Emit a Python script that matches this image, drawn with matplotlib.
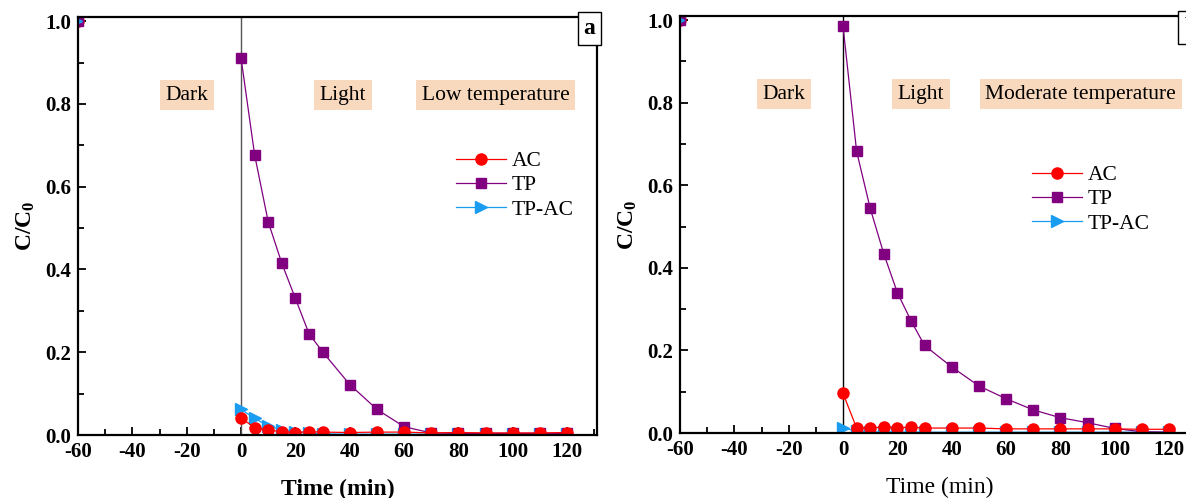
import matplotlib
matplotlib.use('Agg')
import matplotlib.pyplot as plt
from matplotlib.ticker import MultipleLocator

plt.rcParams['font.family'] = ['Liberation Serif', 'DejaVu Serif']
plt.rcParams['mathtext.fontset'] = 'custom'
plt.rcParams['mathtext.rm'] = 'Liberation Serif'
plt.rcParams['mathtext.bf'] = 'Liberation Serif:bold'
plt.rcParams['axes.unicode_minus'] = False

# time points (min); -60 is the start of the dark period
time = [-60, 0, 5, 10, 15, 20, 25, 30, 40, 50, 60, 70, 80, 90, 100, 110, 120]

# panel a - low temperature
ac_low = [1.0, 0.041, 0.018, 0.012, 0.008, 0.006, 0.008, 0.007, 0.006, 0.007,
          0.007, 0.005, 0.006, 0.005, 0.005, 0.005, 0.006]
tp_low = [1.0, 0.911, 0.677, 0.515, 0.415, 0.330, 0.245, 0.201, 0.122, 0.062,
          0.020, 0.005, 0.004, 0.004, 0.004, 0.004, 0.004]
tpac_low = [1.0, 0.062, 0.040, 0.022, 0.012, 0.008, 0.005, 0.003, 0.002, 0.002,
            0.002, 0.002, 0.002, 0.002, 0.002, 0.002, 0.002]

# panel b - moderate temperature
ac_mod = [1.0, 0.096, 0.012, 0.013, 0.014, 0.013, 0.014, 0.012, 0.012, 0.012,
          0.010, 0.010, 0.010, 0.010, 0.010, 0.009, 0.009]
tp_mod = [1.0, 0.985, 0.682, 0.544, 0.434, 0.340, 0.272, 0.212, 0.160, 0.114,
          0.083, 0.056, 0.037, 0.025, 0.011, 0.003, 0.002]
tpac_mod = [1.0, 0.013, 0.004, 0.003, 0.002, 0.002, 0.002, 0.002, 0.002, 0.002,
            0.002, 0.002, 0.002, 0.002, 0.002, 0.002, 0.002]

c_ac = '#ff0000'
c_tp = '#800080'
c_tpac = '#1a9cf0'
box_color = '#f9d9be'


def draw_panel(ax, ac, tp, tpac, labels, label_x, letter, bold_xlabel, vline_color):
    h3, = ax.plot(time[1:], tpac[1:], color=c_tpac, lw=0.9, marker='>', ms=8,
                  label='TP-AC', zorder=3)
    h2, = ax.plot(time[1:], tp[1:], color=c_tp, lw=0.9, marker='s', ms=7,
                  label='TP', zorder=4)
    h1, = ax.plot(time[1:], ac[1:], color=c_ac, lw=0.9, marker='o', ms=8,
                  label='AC', zorder=5)
    # starting points at -60 min (mostly hidden behind the axis)
    ax.plot(time[:1], ac[:1], color=c_ac, marker='o', ms=8, ls='none', zorder=3)
    ax.plot(time[:1], tp[:1], color=c_tp, marker='s', ms=7, ls='none', zorder=4)
    ax.plot(time[:1], tpac[:1], color=c_tpac, marker='>', ms=6, ls='none', zorder=5)

    ax.axvline(0, color=vline_color, lw=1.0, zorder=2)

    ax.set_xlim(-60, 131)
    ax.set_ylim(0, 1.01)
    ax.xaxis.set_minor_locator(MultipleLocator(10))
    ax.yaxis.set_minor_locator(MultipleLocator(0.1))
    ax.set_xticks(range(-60, 121, 20))
    ax.set_yticks([0.0, 0.2, 0.4, 0.6, 0.8, 1.0])
    ax.set_yticklabels(['0.0', '0.2', '0.4', '0.6', '0.8', '1.0'])
    ax.tick_params(which='major', direction='in', length=6, width=1.3,
                   labelsize=15, pad=5, top=False, right=False)
    ax.tick_params(which='minor', direction='in', length=4, width=1.3,
                   top=False, right=False)
    for lab in ax.get_xticklabels() + ax.get_yticklabels():
        lab.set_fontweight('bold')
    for sp in ax.spines.values():
        sp.set_linewidth(1.6)
        sp.set_zorder(10)

    for txt, x in zip(labels, label_x):
        ax.text(x, 0.821, txt, fontsize=15.5, ha='center', va='center',
                bbox=dict(boxstyle='square,pad=0.25', facecolor=box_color,
                          edgecolor='none'))

    ax.text(0.997, 0.997, letter, transform=ax.transAxes, fontsize=17,
            fontweight='bold', ha='right', va='top', zorder=11,
            bbox=dict(boxstyle='square,pad=0.25', facecolor='white',
                      edgecolor='black', lw=1.0))

    ax.set_ylabel(r'$\mathbf{C/C_0}$', fontsize=17, labelpad=6)
    ax.set_xlabel('Time (min)', fontsize=17,
                  fontweight='bold' if bold_xlabel else 'normal', labelpad=12)
    return [h1, h2, h3]


fig = plt.figure(figsize=(11.86, 4.98), dpi=100)
ax_a = fig.add_axes([78 / 1186, 63 / 498, 519 / 1186, 418 / 498])
ax_b = fig.add_axes([680 / 1186, 65 / 498, 519 / 1186, 417 / 498])

handles_a = draw_panel(ax_a, ac_low, tp_low, tpac_low,
                       ['Dark', 'Light', 'Low temperature'], [-20, 37.5, 93.7],
                       'a', True, '#555555')
handles_b = draw_panel(ax_b, ac_mod, tp_mod, tpac_mod,
                       ['Dark', 'Light', 'Moderate temperature'], [-21.7, 28.7, 87.5],
                       'b', False, 'black')

for ax, handles, pos in [(ax_a, handles_a, (456 / 1186, 1 - 151 / 498)),
                         (ax_b, handles_b, (1032 / 1186, 1 - 165 / 498))]:
    ax.legend(handles=handles, loc='upper left', bbox_to_anchor=pos,
              bbox_transform=fig.transFigure, frameon=False, fontsize=15.5,
              handlelength=2.3, handletextpad=0.3, labelspacing=0.2,
              borderpad=0, borderaxespad=0)

fig.savefig('out.png', dpi=100)
